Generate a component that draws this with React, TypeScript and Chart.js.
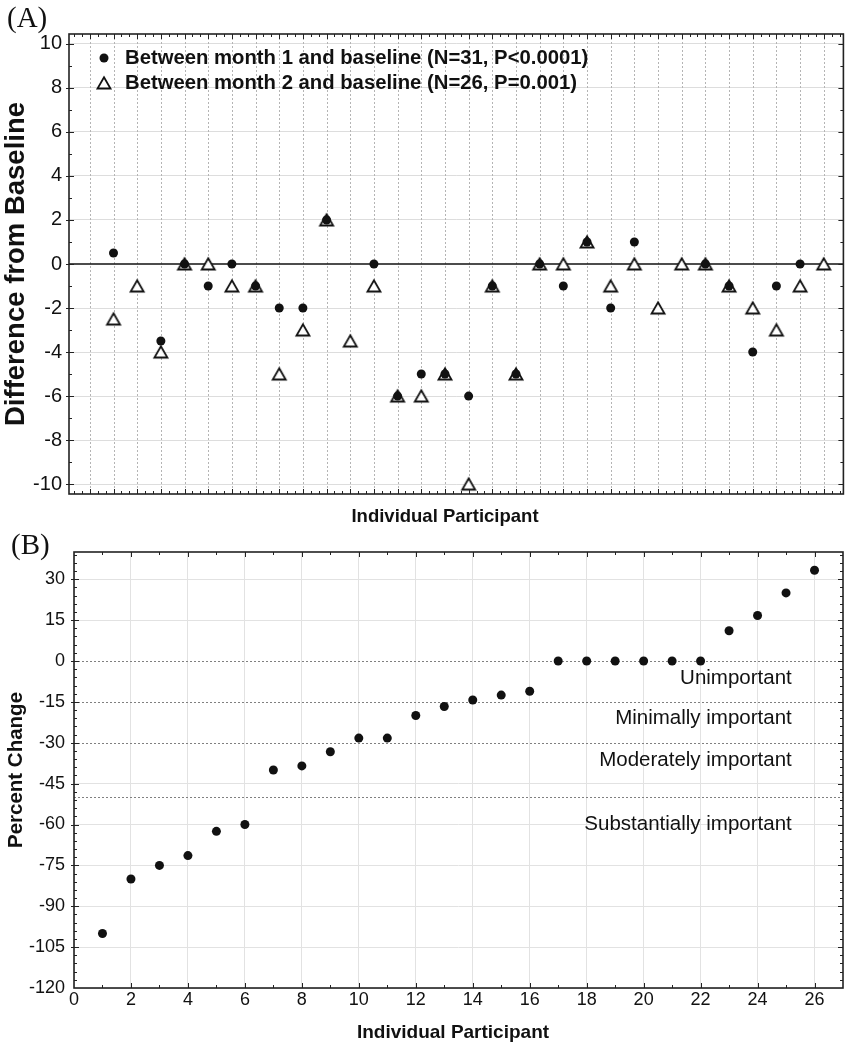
import React, { useEffect, useRef } from "react";
import { Chart, registerables } from "chart.js";

Chart.register(...registerables);

// ---------- Panel A data ----------
const participantsA = [1, 2, 3, 4, 5, 6, 7, 8, 9, 10, 11, 12, 13, 14, 15, 16, 17, 18, 19, 20, 21, 22, 23, 24, 25, 26, 27, 28, 29, 30, 31];
const month1Diff: (number | null)[] = [0.5, null, -3.5, 0, -1, 0, -1, -2, -2, 2, null, 0, -6, -5, -5, -6, -1, -5, 0, -1, 1, -2, 1, null, null, 0, -1, -4, -1, 0, null];
const month2Diff: (number | null)[] = [-2.5, -1, -4, 0, 0, -1, -1, -5, -3, 2, -3.5, -1, -6, -6, -5, -10, -1, -5, 0, 0, 1, -1, 0, -2, 0, 0, -1, -2, -3, -1, 0];
const seriesLabelsA = [
  "Between month 1 and baseline (N=31, P<0.0001)",
  "Between month 2 and baseline (N=26, P=0.001)",
];
const yTicksA = [-10, -8, -6, -4, -2, 0, 2, 4, 6, 8, 10];
const gridXA = [0, 1, 2, 3, 4, 5, 6, 7, 8, 9, 10, 11, 12, 13, 14, 15, 16, 17, 18, 19, 20, 21, 22, 23, 24, 25, 26, 27, 28, 29, 30, 31];
const titleYA = "Difference from Baseline";
const titleXA = "Individual Participant";

// ---------- Panel B data ----------
const participantsB = [1, 2, 3, 4, 5, 6, 7, 8, 9, 10, 11, 12, 13, 14, 15, 16, 17, 18, 19, 20, 21, 22, 23, 24, 25, 26];
const percentChange = [-100, -80, -75, -71.4, -62.5, -60, -40, -38.5, -33.3, -28.3, -28.3, -20, -16.7, -14.3, -12.5, -11.1, 0, 0, 0, 0, 0, 0, 11.1, 16.7, 25, 33.3];
const xTicksB = [0, 2, 4, 6, 8, 10, 12, 14, 16, 18, 20, 22, 24, 26];
const yTicksB = [-120, -105, -90, -75, -60, -45, -30, -15, 0, 15, 30];
const thresholdValues = [0, -15, -30, -50];
const thresholdLabels = ["Unimportant", "Minimally important", "Moderately important", "Substantially important"];
const thresholdLabelY = [-6.2, -20.9, -36.6, -59.8];
const titleYB = "Percent Change";
const titleXB = "Individual Participant";

const SANS = "'Liberation Sans', Arial, sans-serif";
const SERIF = "'Liberation Serif', 'Times New Roman', serif";

function line(ctx: CanvasRenderingContext2D, x1: number, y1: number, x2: number, y2: number) {
  ctx.beginPath();
  ctx.moveTo(x1, y1);
  ctx.lineTo(x2, y2);
  ctx.stroke();
}

function makeTriangle(): HTMLCanvasElement {
  const c = document.createElement("canvas");
  c.width = 18;
  c.height = 18;
  const g = c.getContext("2d")!;
  g.fillStyle = "#fff";
  g.strokeStyle = "#111";
  g.lineWidth = 1.8;
  g.lineJoin = "miter";
  g.beginPath();
  g.moveTo(9, 3.2);
  g.lineTo(15.5, 14.5);
  g.lineTo(2.5, 14.5);
  g.closePath();
  g.fill();
  g.stroke();
  return c;
}

// dotted grid lines / reference lines drawn via the scales
const dottedPlugin = {
  id: "dotted",
  beforeDatasetsDraw(chart: any, _a: any, opts: any) {
    const { ctx, chartArea: a, scales } = chart;
    ctx.save();
    ctx.setLineDash([2, 2]);
    ctx.lineWidth = 1;
    ctx.strokeStyle = opts.color || "#9a9a9a";
    (opts.xValues || []).forEach((v: number) => {
      const px = Math.round(scales.x.getPixelForValue(v)) + 0.5;
      line(ctx, px, a.top, px, a.bottom);
    });
    (opts.yValues || []).forEach((v: number) => {
      const py = Math.round(scales.y.getPixelForValue(v)) + 0.5;
      line(ctx, a.left, py, a.right, py);
    });
    ctx.setLineDash([]);
    if (opts.solidY !== undefined) {
      ctx.strokeStyle = "#111";
      ctx.lineWidth = 1.6;
      const py = scales.y.getPixelForValue(opts.solidY);
      line(ctx, a.left, py, a.right, py);
    }
    ctx.restore();
  },
};

// frame with major/minor ticks
const framePlugin = {
  id: "frame",
  afterDatasetsDraw(chart: any, _a: any, opts: any) {
    const { ctx, chartArea: a, scales } = chart;
    const xs = scales.x;
    const ys = scales.y;
    ctx.save();
    ctx.strokeStyle = "#222";
    ctx.lineWidth = 1;
    const eps = 1e-6;
    for (let v = Math.ceil(xs.min / opts.xMinor) * opts.xMinor; v <= xs.max + eps; v += opts.xMinor) {
      const px = Math.round(xs.getPixelForValue(v)) + 0.5;
      if (px < a.left + 1 || px > a.right - 1) continue;
      const major = Math.abs(v / opts.xMajor - Math.round(v / opts.xMajor)) < 1e-4;
      const len = major ? 5 : 3;
      line(ctx, px, a.bottom, px, a.bottom - len);
      line(ctx, px, a.top, px, a.top + len);
    }
    for (let v = Math.ceil(ys.min / opts.yMinor) * opts.yMinor; v <= ys.max + eps; v += opts.yMinor) {
      const py = Math.round(ys.getPixelForValue(v)) + 0.5;
      if (py < a.top + 1 || py > a.bottom - 1) continue;
      const major = Math.abs(v / opts.yMajor - Math.round(v / opts.yMajor)) < 1e-4;
      const len = major ? 5 : 3;
      line(ctx, a.left - (major ? 3 : 0), py, a.left + len, py);
      line(ctx, a.right, py, a.right - len, py);
    }
    ctx.lineWidth = 1.6;
    ctx.strokeRect(a.left, a.top, a.right - a.left, a.bottom - a.top);
    ctx.restore();
  },
};

// texts: panel label, axis titles, legend, annotations
const textPlugin = {
  id: "texts",
  afterDraw(chart: any, _a: any, opts: any) {
    const { ctx, chartArea: a, scales } = chart;
    ctx.save();
    ctx.fillStyle = "#111";
    ctx.font = `29px ${SERIF}`;
    ctx.textAlign = "left";
    ctx.textBaseline = "alphabetic";
    ctx.fillText(opts.panel, opts.panelX, opts.panelY);
    ctx.textAlign = "center";
    ctx.textBaseline = "middle";
    ctx.font = `bold ${opts.titleXSize}px ${SANS}`;
    ctx.fillText(opts.titleX, opts.titleXX, opts.titleXY);
    ctx.save();
    ctx.font = `bold ${opts.titleYSize}px ${SANS}`;
    ctx.translate(opts.titleYX, opts.titleYY);
    ctx.rotate(-Math.PI / 2);
    ctx.fillText(opts.titleY, 0, 0);
    ctx.restore();
    if (opts.legend) {
      ctx.font = `bold ${opts.legendSize}px ${SANS}`;
      ctx.textAlign = "left";
      ctx.textBaseline = "middle";
      chart.data.datasets.forEach((ds: any, i: number) => {
        const cy = a.top + 24 + i * 25;
        const cx = a.left + 35;
        if (ds.pointStyle === "circle") {
          ctx.beginPath();
          ctx.arc(cx, cy, 4.5, 0, Math.PI * 2);
          ctx.fill();
        } else {
          const img = ds.pointStyle as HTMLCanvasElement;
          ctx.drawImage(img, cx - img.width / 2, cy - img.height / 2);
        }
        ctx.fillText(ds.label, a.left + 56, cy);
      });
    }
    if (opts.annotations) {
      ctx.font = `${opts.annSize}px ${SANS}`;
      ctx.textAlign = "right";
      ctx.textBaseline = "middle";
      opts.annotations.forEach((t: string, i: number) => {
        ctx.fillText(t, scales.x.getPixelForValue(opts.annX), scales.y.getPixelForValue(opts.annY[i]));
      });
    }
    ctx.restore();
  },
};

function ChartA() {
  const ref = useRef<HTMLCanvasElement>(null);
  useEffect(() => {
    if (!ref.current) return;
    const tri = makeTriangle();
    const ptsC = participantsA.map((p, i) => ({ x: p, y: month1Diff[i] })).filter((d) => d.y !== null);
    const ptsT = participantsA.map((p, i) => ({ x: p, y: month2Diff[i] })).filter((d) => d.y !== null);
    const chart = new Chart(ref.current, {
      type: "scatter",
      data: {
        datasets: [
          { label: seriesLabelsA[0], data: ptsC as any, pointStyle: "circle", pointRadius: 4.5, backgroundColor: "#111", borderColor: "#111", borderWidth: 0, order: 0 },
          { label: seriesLabelsA[1], data: ptsT as any, pointStyle: tri as any, pointRadius: 7, backgroundColor: "#fff", borderColor: "#111", borderWidth: 1.6, order: 1 },
        ],
      },
      options: {
        responsive: false,
        animation: false,
        events: [],
        layout: { padding: { left: 0, right: 2, top: 34, bottom: 0 } },
        plugins: {
          legend: { display: false },
          tooltip: { enabled: false },
          dotted: { xValues: gridXA, color: "#b4b4b4", solidY: 0 },
          frame: { xMinor: 1 / 3, xMajor: 1, yMinor: 1, yMajor: 2 },
          texts: {
            panel: "(A)", panelX: 7, panelY: 27,
            titleX: titleXA, titleXX: 445, titleXY: 517, titleXSize: 18.5,
            titleY: titleYA, titleYX: 16, titleYY: 264, titleYSize: 27.5,
            legend: true, legendSize: 20.3,
          },
        } as any,
        scales: {
          x: {
            type: "linear", min: -0.88, max: 31.83,
            afterBuildTicks: (s: any) => { s.ticks = gridXA.map((v) => ({ value: v })); },
            afterFit: (s: any) => { s.height = 36; },
            ticks: { display: false },
            grid: { display: false, drawTicks: false },
            border: { display: false },
          },
          y: {
            type: "linear", min: -10.45, max: 10.45,
            afterBuildTicks: (s: any) => { s.ticks = yTicksA.map((v) => ({ value: v })); },
            afterFit: (s: any) => { s.width = 69; },
            ticks: { font: { family: SANS, size: 20 }, color: "#111", padding: 7 },
            grid: { color: (c: any) => (c.tick && c.tick.value === 0 ? "rgba(0,0,0,0)" : "#dddddd"), lineWidth: 1, drawTicks: false },
            border: { display: false },
          },
        },
      },
      plugins: [dottedPlugin, framePlugin, textPlugin],
    });
    return () => chart.destroy();
  }, []);
  return <canvas ref={ref} width={852} height={530} style={{ position: "absolute", left: 0, top: 0 }} />;
}

function ChartB() {
  const ref = useRef<HTMLCanvasElement>(null);
  useEffect(() => {
    if (!ref.current) return;
    const pts = participantsB.map((p, i) => ({ x: p, y: percentChange[i] }));
    const chart = new Chart(ref.current, {
      type: "scatter",
      data: {
        datasets: [
          { label: "Percent change", data: pts, pointStyle: "circle", pointRadius: 4.5, backgroundColor: "#111", borderColor: "#111", borderWidth: 0 },
        ],
      },
      options: {
        responsive: false,
        animation: false,
        events: [],
        layout: { padding: { left: 0, right: 9, top: 22, bottom: 0 } },
        plugins: {
          legend: { display: false },
          tooltip: { enabled: false },
          dotted: { yValues: thresholdValues, color: "#808080" },
          frame: { xMinor: 1, xMajor: 2, yMinor: 3, yMajor: 15 },
          texts: {
            panel: "(B)", panelX: 11, panelY: 24,
            titleX: titleXB, titleXX: 453, titleXY: 503, titleXSize: 19,
            titleY: titleYB, titleYX: 16, titleYY: 240, titleYSize: 20.5,
            legend: false,
            annotations: thresholdLabels, annX: 25.2, annY: thresholdLabelY, annSize: 20.5,
          },
        } as any,
        scales: {
          x: {
            type: "linear", min: 0, max: 27,
            afterBuildTicks: (s: any) => { s.ticks = xTicksB.map((v) => ({ value: v })); },
            afterFit: (s: any) => { s.height = 62; },
            ticks: { font: { family: SANS, size: 18 }, color: "#111", padding: 1 },
            grid: { color: "#e2e2e2", lineWidth: 1, drawTicks: false },
            border: { display: false },
          },
          y: {
            type: "linear", min: -120, max: 40,
            afterBuildTicks: (s: any) => { s.ticks = yTicksB.map((v) => ({ value: v })); },
            afterFit: (s: any) => { s.width = 74; },
            ticks: { font: { family: SANS, size: 18 }, color: "#111", padding: 9 },
            grid: { color: (c: any) => (c.tick && thresholdValues.includes(c.tick.value) ? "rgba(0,0,0,0)" : "#e2e2e2"), lineWidth: 1, drawTicks: false },
            border: { display: false },
          },
        },
      },
      plugins: [dottedPlugin, framePlugin, textPlugin],
    });
    return () => chart.destroy();
  }, []);
  return <canvas ref={ref} width={852} height={520} style={{ position: "absolute", left: 0, top: 530 }} />;
}

export default function App() {
  return (
    <div style={{ position: "absolute", left: 0, top: 0, width: 852, height: 1050, background: "#fff" }}>
      <ChartA />
      <ChartB />
    </div>
  );
}
